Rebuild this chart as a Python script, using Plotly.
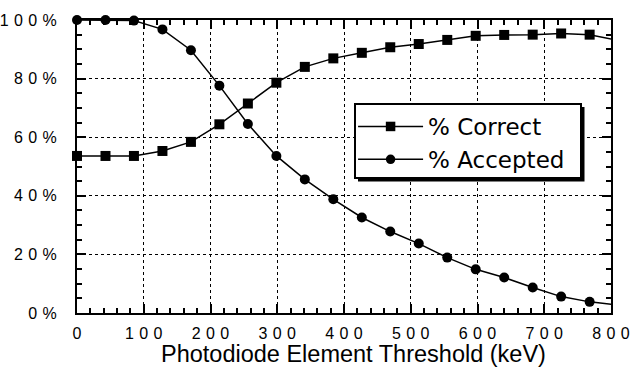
import plotly.graph_objects as go

# Data
threshold_kev = [0, 42.7, 85.3, 128, 170.7, 213.3, 256, 298.7, 341.3, 384,
                 426.7, 469.3, 512, 554.7, 597.3, 640, 682.7, 725.3, 768, 810.7]
pct_correct = [53.6, 53.6, 53.6, 55.3, 58.4, 64.4, 71.5, 78.6, 84.0, 86.9,
               88.8, 90.7, 91.8, 93.2, 94.6, 94.9, 95.0, 95.4, 95.0, 93.0]
pct_accepted = [100, 100, 99.8, 96.8, 89.7, 77.6, 64.5, 53.6, 45.6, 38.8,
                32.6, 27.8, 23.7, 18.9, 14.9, 12.1, 8.7, 5.6, 3.8, 2.7]

x_tick_vals = [0, 100, 200, 300, 400, 500, 600, 700, 800]
y_tick_vals = [0, 20, 40, 60, 80, 100]
x_title = "Photodiode Element Threshold (keV)"

SP = "\u2004"  # spaced-out lettering as in the original
x_tick_text = [SP.join(str(v)) for v in x_tick_vals]
y_tick_text = [SP.join(str(v) + "%") for v in y_tick_vals]

# last point lies just past the axis end (only its line segment is visible)
marker_sizes = [10] * (len(threshold_kev) - 1) + [0]

fig = go.Figure()
fig.add_trace(go.Scatter(
    x=threshold_kev, y=pct_correct, name="% Correct", mode="lines+markers",
    line=dict(color="black", width=1.5),
    marker=dict(symbol="square", size=marker_sizes, color="black", opacity=1,
                line=dict(width=0)),
    cliponaxis=False,
))
fig.add_trace(go.Scatter(
    x=threshold_kev, y=pct_accepted, name="% Accepted", mode="lines+markers",
    line=dict(color="black", width=1.5),
    marker=dict(symbol="circle", size=marker_sizes, color="black", opacity=1,
                line=dict(width=0)),
    cliponaxis=False,
))
# empty trace to activate the mirrored tick axes (top / right)
fig.add_trace(go.Scatter(x=[None], y=[None], xaxis="x2", yaxis="y2",
                         showlegend=False, hoverinfo="skip"))

tick_font = dict(family="Liberation Sans, Arial", size=16, color="black")
common = dict(ticks="inside", ticklen=9, tickwidth=2, tickcolor="black",
              zeroline=False, automargin=False)

PL, PT, PW, PH = 77, 20, 534, 293  # plot-area geometry in pixels


def px_x(p):
    return (p - PL) / PW


def px_y(p):
    return (PT + PH - p) / PH


fig.update_layout(
    width=637, height=368,
    margin=dict(l=PL, r=637 - PL - PW, t=PT, b=368 - PT - PH, autoexpand=False),
    paper_bgcolor="white", plot_bgcolor="white",
    xaxis=dict(
        range=[0, 800], tickmode="array", tickvals=x_tick_vals, ticktext=x_tick_text,
        showline=True, linecolor="black", linewidth=2, mirror=True,
        showgrid=True, gridcolor="black", gridwidth=1, griddash="dot",
        minor=dict(ticks="inside", ticklen=5, tickwidth=1.5, dtick=20, tickcolor="black", showgrid=False),
        tickfont=tick_font, ticklabelstandoff=5, **common,
    ),
    yaxis=dict(
        range=[0, 100], tickmode="array", tickvals=y_tick_vals, ticktext=y_tick_text,
        showline=True, linecolor="black", linewidth=2, mirror=True,
        showgrid=True, gridcolor="black", gridwidth=1, griddash="dot",
        minor=dict(ticks="inside", ticklen=5, tickwidth=1.5, dtick=5, tickcolor="black", showgrid=False),
        tickfont=tick_font, ticklabelstandoff=15, **common,
    ),
    xaxis2=dict(
        range=[0, 800], overlaying="x", anchor="y", side="top",
        tickmode="array", tickvals=x_tick_vals, showticklabels=False, showgrid=False,
        minor=dict(ticks="inside", ticklen=5, tickwidth=1.5, dtick=20, tickcolor="black", showgrid=False),
        **common,
    ),
    yaxis2=dict(
        range=[0, 100], overlaying="y", anchor="x", side="right",
        tickmode="array", tickvals=y_tick_vals, showticklabels=False, showgrid=False,
        minor=dict(ticks="inside", ticklen=5, tickwidth=1.5, dtick=5, tickcolor="black", showgrid=False),
        **common,
    ),
    showlegend=True,
    legend=dict(
        x=0.517, y=0.7099, xanchor="left", yanchor="top",
        bgcolor="rgba(0,0,0,0)", borderwidth=0,
        font=dict(family="DejaVu Sans", size=23, color="black"),
        itemwidth=65, tracegroupgap=0,
    ),
    # legend frame with drop shadow
    shapes=[
        dict(type="rect", xref="paper", yref="paper",
             x0=px_x(358), x1=px_x(584.5), y0=px_y(181.5), y1=px_y(107),
             fillcolor="black", line=dict(width=0), layer="above"),
        dict(type="rect", xref="paper", yref="paper",
             x0=px_x(355), x1=px_x(581), y0=px_y(178), y1=px_y(104),
             fillcolor="white", line=dict(width=2, color="black"), layer="above"),
    ],
    annotations=[dict(
        text=x_title, xref="paper", yref="paper", x=0.5178, y=-0.1399,
        xanchor="center", yanchor="middle", showarrow=False,
        font=dict(family="Liberation Sans, Arial", size=23.5, color="black"),
    )],
)

fig.write_html("out.html")
